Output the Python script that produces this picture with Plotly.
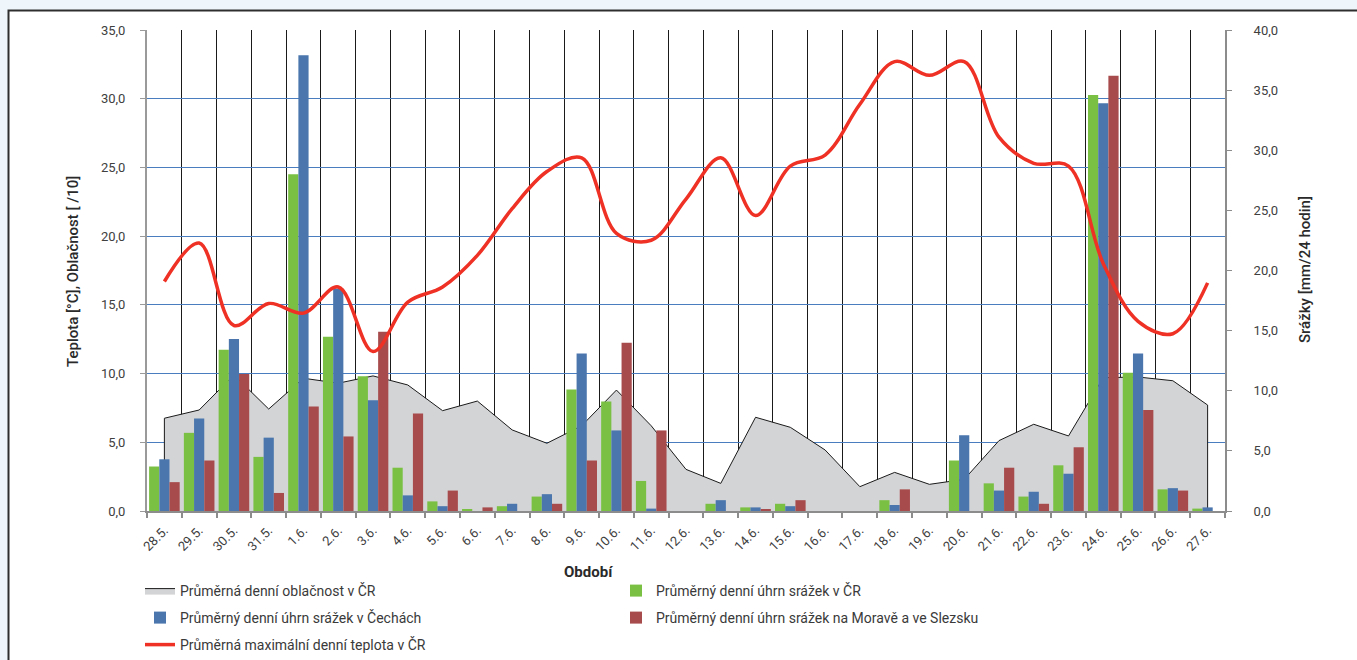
import plotly.graph_objects as go

# ---------------- data ----------------
categories = ["28.5.", "29.5.", "30.5.", "31.5.", "1.6.", "2.6.", "3.6.", "4.6.",
              "5.6.", "6.6.", "7.6.", "8.6.", "9.6.", "10.6.", "11.6.", "12.6.",
              "13.6.", "14.6.", "15.6.", "16.6.", "17.6.", "18.6.", "19.6.", "20.6.",
              "21.6.", "22.6.", "23.6.", "24.6.", "25.6.", "26.6.", "27.6."]

# Průměrná denní oblačnost v ČR [/10]  (left axis)
cloudiness = [6.75, 7.35, 9.9, 7.42, 9.66, 9.3, 9.83, 9.17, 7.3, 8.0, 5.9, 4.93,
              6.2, 8.8, 6.2, 3.03, 2.01, 6.82, 6.09, 4.44, 1.77, 2.81, 1.94, 2.3,
              5.12, 6.31, 5.46, 9.7, 9.75, 9.48, 7.71]

# Průměrná maximální denní teplota v ČR [°C]  (left axis)
max_temp = [16.7, 19.5, 13.5, 15.1, 14.4, 16.3, 11.6, 15.2, 16.3, 18.6, 22.0, 24.7,
            25.7, 20.2, 19.7, 22.7, 25.7, 21.5, 25.1, 25.9, 29.6, 32.7, 31.7, 32.7,
            27.2, 25.3, 25.1, 18.0, 13.8, 12.9, 16.6]

# Srážky [mm/24 hodin]  (right axis)
rain_cr = [3.7, 6.5, 13.4, 4.5, 28.0, 14.5, 11.2, 3.6, 0.8, 0.1, 0.4, 1.2,
           10.1, 9.1, 2.5, 0.0, 0.6, 0.3, 0.6, 0.0, 0.0, 0.9, 0.0, 4.2,
           2.3, 1.2, 3.8, 34.6, 11.5, 1.8, 0.2]
rain_cechy = [4.3, 7.7, 14.3, 6.1, 37.9, 18.5, 9.2, 1.3, 0.4, 0.0, 0.6, 1.4,
              13.1, 6.7, 0.2, 0.0, 0.9, 0.3, 0.4, 0.0, 0.0, 0.5, 0.0, 6.3,
              1.7, 1.6, 3.1, 33.9, 13.1, 1.9, 0.3]
rain_morava = [2.4, 4.2, 11.4, 1.5, 8.7, 6.2, 14.9, 8.1, 1.7, 0.3, 0.0, 0.6,
               4.2, 14.0, 6.7, 0.0, 0.0, 0.1, 0.9, 0.0, 0.0, 1.8, 0.0, 0.0,
               3.6, 0.6, 5.3, 36.2, 8.4, 1.7, 0.0]

left_ticks = [0, 5, 10, 15, 20, 25, 30, 35]
right_ticks = [0, 5, 10, 15, 20, 25, 30, 35, 40]

# ---------------- layout helpers ----------------
W, H = 1357, 660
ML, MR, MT, MB = 147, 132, 30, 149
PW = W - ML - MR
PH = H - MT - MB
PAGE_BG = "#eef6fb"


def px_x(p):
    return (p - ML) / PW


def px_y(p):
    return (H - MB - p) / PH


FONT = "Roboto"
TXT = "#3a3a3a"

fig = go.Figure()

# cloudiness area (closed polygon down to the baseline)
fig.add_trace(go.Scatter(
    x=[categories[0]] + categories + [categories[-1]],
    y=[0] + cloudiness + [0],
    mode="lines", fill="toself", fillcolor="#d3d4d6",
    line=dict(color="#1a1a1a", width=1),
    name="Průměrná denní oblačnost v ČR",
    xaxis="x", yaxis="y", legend="legend", hoverinfo="skip",
))

fig.add_trace(go.Bar(x=categories, y=rain_cr, name="Průměrný denní úhrn srážek v ČR",
                     marker=dict(color="#7ac143", line=dict(width=0)),
                     xaxis="x", yaxis="y2", legend="legend"))
fig.add_trace(go.Bar(x=categories, y=rain_cechy, name="Průměrný denní úhrn srážek v Čechách",
                     marker=dict(color="#4a76ad", line=dict(width=0)),
                     xaxis="x", yaxis="y2", legend="legend2"))
fig.add_trace(go.Bar(x=categories, y=rain_morava,
                     name="Průměrný denní úhrn srážek na Moravě a ve Slezsku",
                     marker=dict(color="#a84b4c", line=dict(width=0)),
                     xaxis="x", yaxis="y2", legend="legend2"))

fig.add_trace(go.Scatter(
    x=categories, y=max_temp, mode="lines",
    line=dict(color="#ee3124", width=3.5, shape="spline", smoothing=1.0),
    name="Průměrná maximální denní teplota v ČR",
    xaxis="x", yaxis="y3", legend="legend3",
))

legend_common = dict(orientation="h", xanchor="left", yanchor="middle",
                     entrywidth=431, bgcolor="rgba(0,0,0,0)",
                     font=dict(family=FONT, size=14, color=TXT),
                     itemclick=False, itemdoubleclick=False)

fig.update_layout(
    width=W, height=H,
    margin=dict(l=ML, r=MR, t=MT, b=MB, autoexpand=False),
    paper_bgcolor=PAGE_BG, plot_bgcolor="#ffffff",
    separators=", ",
    font=dict(family=FONT, size=13, color=TXT),
    barmode="group", bargap=0.12, bargroupgap=0.0,
    xaxis=dict(type="category", tickson="boundaries", ticks="outside", ticklen=5,
               tickcolor="#8c8c8c", tickwidth=1.5,
               showline=True, linecolor="#8c8c8c", linewidth=1.5,
               showgrid=True, gridcolor="#1a1a1a", gridwidth=1,
               tickangle=-45, ticklabelstandoff=5,
               tickfont=dict(family=FONT, size=13, color="#404040"),
               automargin=False, fixedrange=True),
    yaxis=dict(range=[0, 35], tickvals=left_ticks, tickformat=".1f",
               showgrid=True, gridcolor="#4a7dbf", gridwidth=1, zeroline=False,
               showline=True, linecolor="#9a9a9a", linewidth=2,
               ticks="outside", ticklen=5, tickcolor="#9a9a9a",
               ticklabelstandoff=12,
               tickfont=dict(family=FONT, size=13, color="#404040"),
               automargin=False, fixedrange=True),
    yaxis2=dict(overlaying="y", side="right", range=[0, 40], tickvals=right_ticks,
                tickformat=".1f", showgrid=False, zeroline=False,
                showline=True, linecolor="#8c8c8c", linewidth=2,
                ticks="outside", ticklen=5, tickcolor="#8c8c8c",
                ticklabelstandoff=19,
                tickfont=dict(family=FONT, size=13, color="#404040"),
                automargin=False, fixedrange=True),
    yaxis3=dict(overlaying="y", range=[0, 35], visible=False, fixedrange=True),
    legend=dict(legend_common, x=px_x(140), y=px_y(591)),
    legend2=dict(legend_common, x=px_x(140), y=px_y(618)),
    legend3=dict(legend_common, x=px_x(140), y=px_y(645)),
    shapes=[dict(type="rect", xref="paper", yref="paper", layer="below",
                 x0=px_x(8.5), x1=px_x(W + 20), y0=px_y(H + 20), y1=px_y(10.5),
                 fillcolor="#ffffff", line=dict(color="#2e2e2e", width=2))],
    annotations=[
        dict(text="Teplota [°C], Oblačnost [ /10]", xref="paper", yref="paper",
             x=px_x(73), y=px_y(272), textangle=-90, showarrow=False,
             xanchor="center", yanchor="middle",
             font=dict(family=FONT, size=15, color="#2a2a2a", weight=500)),
        dict(text="Srážky [mm/24 hodin]", xref="paper", yref="paper",
             x=px_x(1305), y=px_y(270), textangle=-90, showarrow=False,
             xanchor="center", yanchor="middle",
             font=dict(family=FONT, size=15, color="#2a2a2a", weight=500)),
        dict(text="Období", xref="paper", yref="paper",
             x=px_x(588), y=px_y(572), showarrow=False,
             xanchor="center", yanchor="middle",
             font=dict(family=FONT, size=15, color="#2a2a2a", weight="bold")),
    ],
)

fig.write_html(
    "out.html",
    config={"displayModeBar": False},
    post_script=("document.body.style.margin='0';"
                 "document.body.style.overflow='hidden';"
                 "document.body.style.background='" + PAGE_BG + "';"),
)
